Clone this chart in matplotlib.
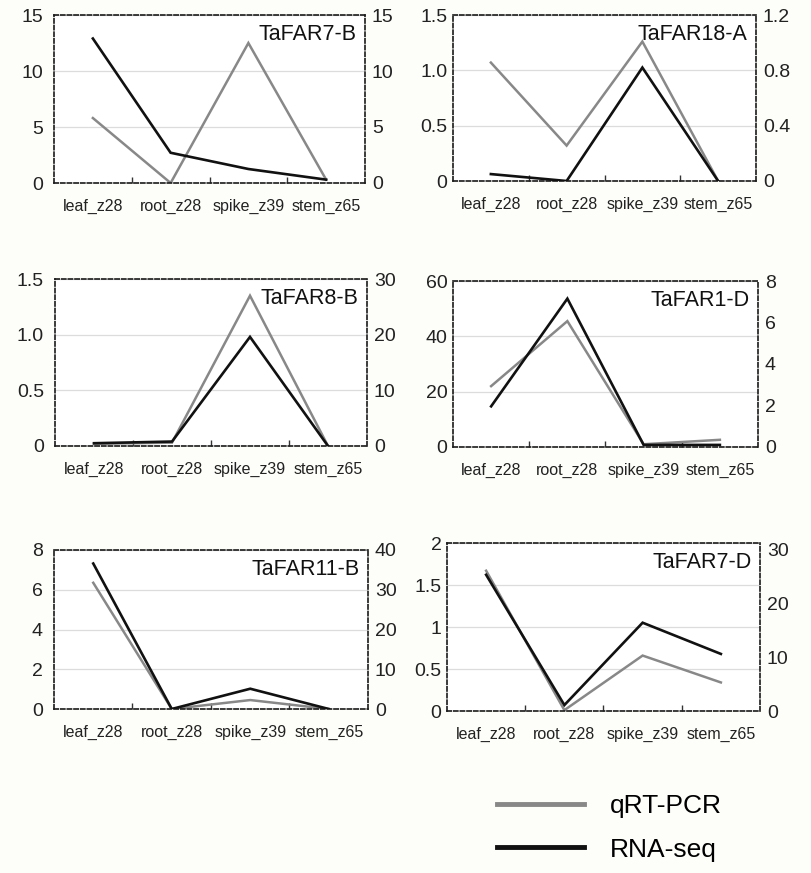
import matplotlib
matplotlib.use("Agg")
import matplotlib.pyplot as plt

plt.rcParams['font.family'] = ['Liberation Sans', 'DejaVu Sans']

tissues = ['leaf_z28', 'root_z28', 'spike_z39', 'stem_z65']
genes = ['TaFAR7-B', 'TaFAR18-A', 'TaFAR8-B', 'TaFAR1-D', 'TaFAR11-B', 'TaFAR7-D']

# qRT-PCR (grey, left axis)
qpcr = [
    [5.8, 0.0, 12.5, 0.3],
    [1.07, 0.32, 1.26, 0.0],
    [0.02, 0.03, 1.35, 0.0],
    [22.0, 45.5, 1.0, 2.6],
    [6.35, 0.0, 0.45, 0.0],
    [1.67, 0.01, 0.66, 0.34],
]
# RNA-seq (black, right axis)
rnaseq = [
    [12.9, 2.7, 1.25, 0.3],
    [0.05, 0.0, 0.82, 0.0],
    [0.5, 0.8, 19.6, 0.0],
    [1.96, 7.15, 0.1, 0.1],
    [36.6, 0.0, 5.1, 0.0],
    [25.3, 1.1, 16.4, 10.6],
]

left_ticks = [[0, 5, 10, 15], [0, 0.5, 1.0, 1.5], [0, 0.5, 1.0, 1.5],
              [0, 20, 40, 60], [0, 2, 4, 6, 8], [0, 0.5, 1, 1.5, 2]]
left_labels = [['0', '5', '10', '15'], ['0', '0.5', '1.0', '1.5'],
               ['0', '0.5', '1.0', '1.5'], ['0', '20', '40', '60'],
               ['0', '2', '4', '6', '8'], ['0', '0.5', '1', '1.5', '2']]
left_max = [15, 1.5, 1.5, 60, 8, 2]

right_ticks = [[0, 5, 10, 15], [0, 0.4, 0.8, 1.2], [0, 10, 20, 30],
               [0, 2, 4, 6, 8], [0, 10, 20, 30, 40], [0, 10, 20, 30]]
right_labels = [['0', '5', '10', '15'], ['0', '0.4', '0.8', '1.2'],
                ['0', '10', '20', '30'], ['0', '2', '4', '6', '8'],
                ['0', '10', '20', '30', '40'], ['0', '10', '20', '30']]
right_max = [15, 1.2, 30, 8, 40, 31.2]

W, H = 812, 873
# axes boxes in pixels: left, top, right, bottom
boxes = [(54, 15, 365, 183), (453, 15, 756, 181),
         (55, 279, 367, 446), (453, 281, 758, 447),
         (54, 550, 368, 709), (447, 543, 760, 711)]

grey = '#888888'
black = '#111111'

fig = plt.figure(figsize=(W / 100, H / 100), dpi=100, facecolor='#fdfdf9')

x = [i + 0.5 for i in range(len(tissues))]
lines = None
for i, g in enumerate(genes):
    l, t, r, b = boxes[i]
    ax = fig.add_axes([l / W, 1 - b / H, (r - l) / W, (b - t) / H])
    ax.set_facecolor('white')
    ax2 = ax.twinx()

    lg, = ax.plot(x, qpcr[i], color=grey, lw=1.8, solid_joinstyle='miter')
    lb, = ax2.plot(x, rnaseq[i], color=black, lw=1.9, solid_joinstyle='miter')
    lines = (lg, lb)

    ax.set_xlim(0, 4)
    ax.set_ylim(0, left_max[i])
    ax2.set_ylim(0, right_max[i])
    ax.set_yticks(left_ticks[i])
    ax.set_yticklabels(left_labels[i])
    ax2.set_yticks(right_ticks[i])
    ax2.set_yticklabels(right_labels[i])

    ax.set_xticks(x)
    ax.set_xticklabels(tissues)
    ax.set_xticks([1, 2, 3], minor=True)
    ax.tick_params(axis='x', which='major', length=0, pad=11.5,
                   labelsize=11.5, labelcolor='#222222')
    ax.tick_params(axis='x', which='minor', direction='in', length=4,
                   width=1, color='#333333')
    lpad = 8 if i % 2 == 0 else 4
    ax.tick_params(axis='y', length=0, pad=lpad, labelsize=14,
                   labelcolor='#222222')
    ax2.tick_params(axis='y', length=0, pad=5, labelsize=14,
                    labelcolor='#222222')

    ax.grid(axis='y', color='#dcdcdc', lw=0.9)
    ax.set_axisbelow(True)
    for s in ax.spines.values():
        s.set_linestyle((0, (2.5, 1.5)))
        s.set_linewidth(1.2)
        s.set_color('#1a1a1a')
    for s in ax2.spines.values():
        s.set_visible(False)

    ax2.annotate(g, xy=(1, 1), xycoords='axes fraction', xytext=(-6, -14),
                 textcoords='offset points', ha='right', va='center',
                 fontsize=15.5, color='#111111')

leg = fig.legend(lines, ['qRT-PCR', 'RNA-seq'], loc='upper left',
                 bbox_to_anchor=(473 / W, 1 - 770 / H), frameon=False,
                 fontsize=19, handlelength=3.3, handletextpad=1.0,
                 labelspacing=0.75)
for ln in leg.get_lines():
    ln.set_linewidth(3.5)

fig.savefig('out.png', dpi=100, facecolor=fig.get_facecolor())
